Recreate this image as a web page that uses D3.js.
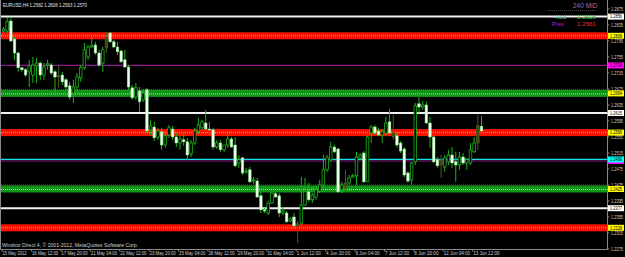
<!DOCTYPE html>
<html>
<head>
<meta charset="utf-8">
<script src="https://cdn.jsdelivr.net/npm/d3@7"></script>
<style>
  body { margin: 0; background: #000; }
  svg { display: block; }
</style>
</head>
<body>
<div id="chart"></div>
<script>

// EURUSD H4 bars, 15 May 2012 .. 13 Jun 2012
var opens = [1.2820,1.2820,1.2845,1.2800,1.2765,1.2728,1.2723,1.2718,1.2710,1.2733,
  1.2740,1.2710,1.2735,1.2735,1.2718,1.2705,1.2710,1.2698,1.2683,1.2665,
  1.2680,1.2703,1.2728,1.2755,1.2780,1.2785,1.2765,1.2740,1.2778,1.2815,
  1.2793,1.2780,1.2770,1.2748,1.2730,1.2678,1.2655,1.2670,1.2648,1.2673,
  1.2573,1.2580,1.2555,1.2568,1.2535,1.2560,1.2575,1.2555,1.2540,1.2548,
  1.2543,1.2513,1.2540,1.2570,1.2578,1.2590,1.2575,1.2573,1.2530,1.2540,
  1.2523,1.2535,1.2550,1.2535,1.2490,1.2503,1.2468,1.2473,1.2445,1.2445,
  1.2408,1.2373,1.2365,1.2390,1.2413,1.2408,1.2365,1.2365,1.2345,1.2355,
  1.2333,1.2340,1.2385,1.2418,1.2398,1.2405,1.2420,1.2435,1.2473,1.2498,
  1.2530,1.2525,1.2423,1.2428,1.2440,1.2455,1.2458,1.2503,1.2515,1.2443,
  1.2565,1.2580,1.2570,1.2560,1.2565,1.2593,1.2565,1.2558,1.2540,1.2525,
  1.2465,1.2448,1.2493,1.2638,1.2630,1.2635,1.2590,1.2555,1.2498,1.2485,
  1.2480,1.2493,1.2510,1.2493,1.2485,1.2505,1.2490,1.2490,1.2518,1.2540,
  1.2582];
var highs = [1.2830,1.2853,1.2855,1.2805,1.2768,1.2730,1.2728,1.2748,1.2755,1.2753,
  1.2743,1.2740,1.2748,1.2740,1.2723,1.2735,1.2718,1.2703,1.2693,1.2698,
  1.2715,1.2735,1.2790,1.2785,1.2805,1.2793,1.2773,1.2780,1.2818,1.2818,
  1.2798,1.2793,1.2773,1.2773,1.2735,1.2685,1.2690,1.2680,1.2673,1.2678,
  1.2598,1.2593,1.2578,1.2578,1.2565,1.2585,1.2583,1.2565,1.2558,1.2568,
  1.2553,1.2548,1.2578,1.2603,1.2598,1.2623,1.2593,1.2578,1.2548,1.2548,
  1.2535,1.2565,1.2555,1.2555,1.2510,1.2505,1.2478,1.2480,1.2455,1.2453,
  1.2418,1.2378,1.2395,1.2418,1.2418,1.2415,1.2380,1.2370,1.2355,1.2365,
  1.2345,1.2455,1.2453,1.2440,1.2415,1.2430,1.2448,1.2510,1.2510,1.2543,
  1.2535,1.2528,1.2443,1.2473,1.2460,1.2463,1.2518,1.2515,1.2520,1.2560,
  1.2585,1.2585,1.2578,1.2573,1.2605,1.2625,1.2610,1.2565,1.2545,1.2530,
  1.2470,1.2493,1.2640,1.2665,1.2645,1.2643,1.2605,1.2560,1.2505,1.2510,
  1.2510,1.2523,1.2530,1.2518,1.2518,1.2515,1.2503,1.2540,1.2555,1.2610,
  1.2608];
var lows = [1.2815,1.2815,1.2793,1.2748,1.2718,1.2718,1.2705,1.2680,1.2690,1.2690,
  1.2698,1.2698,1.2723,1.2710,1.2665,1.2678,1.2685,1.2673,1.2648,1.2640,
  1.2670,1.2693,1.2723,1.2748,1.2778,1.2760,1.2730,1.2718,1.2765,1.2790,
  1.2778,1.2760,1.2740,1.2728,1.2673,1.2648,1.2648,1.2618,1.2643,1.2565,
  1.2560,1.2545,1.2548,1.2523,1.2528,1.2553,1.2548,1.2530,1.2523,1.2533,
  1.2498,1.2505,1.2535,1.2563,1.2573,1.2573,1.2560,1.2523,1.2525,1.2518,
  1.2518,1.2528,1.2528,1.2480,1.2478,1.2460,1.2463,1.2440,1.2438,1.2403,
  1.2365,1.2365,1.2360,1.2388,1.2403,1.2355,1.2360,1.2340,1.2343,1.2330,
  1.2290,1.2335,1.2383,1.2393,1.2390,1.2398,1.2415,1.2430,1.2468,1.2493,
  1.2515,1.2415,1.2415,1.2423,1.2435,1.2453,1.2435,1.2498,1.2440,1.2443,
  1.2540,1.2560,1.2558,1.2540,1.2560,1.2560,1.2548,1.2528,1.2515,1.2455,
  1.2440,1.2435,1.2485,1.2615,1.2623,1.2588,1.2528,1.2490,1.2478,1.2453,
  1.2468,1.2485,1.2478,1.2443,1.2473,1.2485,1.2473,1.2485,1.2515,1.2523,
  1.2563];
var closes = [1.2825,1.2843,1.2795,1.2765,1.2728,1.2723,1.2710,1.2733,1.2735,1.2740,
  1.2710,1.2730,1.2738,1.2715,1.2705,1.2708,1.2693,1.2680,1.2655,1.2680,
  1.2705,1.2728,1.2773,1.2780,1.2783,1.2765,1.2735,1.2773,1.2805,1.2793,
  1.2780,1.2768,1.2743,1.2730,1.2680,1.2653,1.2678,1.2643,1.2665,1.2570,
  1.2583,1.2553,1.2570,1.2535,1.2558,1.2578,1.2555,1.2540,1.2550,1.2543,
  1.2510,1.2540,1.2570,1.2585,1.2593,1.2575,1.2573,1.2530,1.2540,1.2523,
  1.2535,1.2550,1.2530,1.2483,1.2498,1.2465,1.2470,1.2443,1.2448,1.2405,
  1.2373,1.2370,1.2390,1.2415,1.2405,1.2365,1.2370,1.2343,1.2350,1.2333,
  1.2338,1.2385,1.2418,1.2398,1.2410,1.2423,1.2435,1.2473,1.2503,1.2530,
  1.2518,1.2418,1.2435,1.2440,1.2453,1.2458,1.2505,1.2510,1.2443,1.2555,
  1.2580,1.2565,1.2560,1.2568,1.2590,1.2565,1.2555,1.2535,1.2520,1.2460,
  1.2445,1.2490,1.2633,1.2630,1.2635,1.2590,1.2555,1.2493,1.2483,1.2498,
  1.2503,1.2510,1.2490,1.2485,1.2505,1.2490,1.2498,1.2523,1.2540,1.2583,
  1.2570];
// bars that the terminal paints in a darker colour
var dimBars = [15, 28, 80, 93, 106, 119, 129];

var timeLabels = ["15 May 2012", "16 May 12:00", "17 May 20:00", "21 May 04:00", "22 May 12:00",
  "23 May 20:00", "25 May 04:00", "28 May 12:00", "29 May 20:00", "31 May 04:00", "1 Jun 12:00",
  "4 Jun 20:00", "6 Jun 04:00", "7 Jun 12:00", "8 Jun 20:00", "12 Jun 04:00", "13 Jun 12:00"];
var timeLabelBars = [0, 8, 16, 24, 32, 40, 48, 56, 64, 72, 80, 88, 96, 104, 112, 120, 128];

var priceTicks = [1.2875, 1.2835, 1.2795, 1.2755, 1.2715, 1.2675, 1.2635, 1.2595,
  1.2555, 1.2515, 1.2475, 1.2435, 1.2395, 1.2355, 1.2315, 1.2275];

// horizontal levels drawn on the chart
var levelPrices = [1.2856, 1.2808, 1.2734, 1.2664, 1.2615, 1.2566, 1.2495, 1.2499, 1.2425, 1.2377, 1.2328];
var levelKinds  = ["white", "red", "purple", "green", "white", "red", "purple", "cyan", "green", "white", "red"];

var titleText = "EURUSD,H4  1.2582 1.2608 1.2563 1.2570";
var copyText = "Windsor Direct 4, \u00a9 2001-2012, MetaQuotes Software Corp.";
var hodValue = "1.2608";
var prevValue = "1.2561";

var width = 625, height = 257;
var plotRight = 607.5, plotBottom = 249.5;

var svg = d3.select("#chart").append("svg")
  .attr("width", width)
  .attr("height", height)
  .style("background", "#000");

var x = d3.scaleLinear().domain([0, 130]).range([3.5, 481.5]);
var y = d3.scaleLinear().domain([1.2275, 1.2875]).range([249, 9]);

var font = "'Liberation Sans', Arial, sans-serif";

// frame
svg.append("path")
  .attr("d", "M0.5,0 V" + plotBottom + " H" + plotRight + " V0")
  .attr("fill", "none")
  .attr("stroke", "#8a8a8a")
  .attr("stroke-width", 1);

// levels (behind candles)
var gLev = svg.append("g");
levelPrices.forEach(function(p, i) {
  var k = levelKinds[i];
  var yy = y(p);
  if (k == "white") {
    gLev.append("line").attr("x1", 1).attr("x2", plotRight).attr("y1", yy).attr("y2", yy)
      .attr("stroke", "#f2f2f2").attr("stroke-width", 2);
  } else if (k == "red") {
    gLev.append("rect").attr("x", 1).attr("width", plotRight - 1).attr("y", yy - 3.5).attr("height", 7)
      .attr("fill", "#ff1200");
    gLev.append("line").attr("x1", 1).attr("x2", plotRight).attr("y1", yy).attr("y2", yy)
      .attr("stroke", "#ffb000").attr("stroke-width", 1).attr("stroke-dasharray", "1,1");
  } else if (k == "green") {
    gLev.append("rect").attr("x", 1).attr("width", plotRight - 1).attr("y", yy - 3.5).attr("height", 7)
      .attr("fill", "#12961a");
    gLev.append("line").attr("x1", 1).attr("x2", plotRight).attr("y1", yy + 0.5).attr("y2", yy + 0.5)
      .attr("stroke", "#8cff3a").attr("stroke-width", 1).attr("stroke-dasharray", "1,1");
    gLev.append("line").attr("x1", 1).attr("x2", plotRight).attr("y1", yy - 4).attr("y2", yy - 4)
      .attr("stroke", "#2d6f9a").attr("stroke-width", 1).attr("stroke-dasharray", "1,1");
  } else if (k == "purple") {
    gLev.append("line").attr("x1", 1).attr("x2", plotRight).attr("y1", yy).attr("y2", yy)
      .attr("stroke", "#8a1a8a").attr("stroke-width", 1.2);
  } else if (k == "cyan") {
    gLev.append("line").attr("x1", 1).attr("x2", plotRight).attr("y1", yy).attr("y2", yy)
      .attr("stroke", "#10e0e8").attr("stroke-width", 1.2);
  }
});

// candles
var bars = d3.range(opens.length);
var gBars = svg.append("g");
var bodyW = 2.6;

bars.forEach(function(i) {
  var dim = dimBars.indexOf(i) >= 0;
  var up = closes[i] >= opens[i];
  var cx = x(i);
  gBars.append("line")
    .attr("x1", cx).attr("x2", cx)
    .attr("y1", y(highs[i])).attr("y2", y(lows[i]))
    .attr("stroke", dim ? "#4d5a22" : "#1cb41c")
    .attr("stroke-width", 1);
  var top = y(Math.max(opens[i], closes[i]));
  var bot = y(Math.min(opens[i], closes[i]));
  var h = Math.max(1, bot - top);
  gBars.append("rect")
    .attr("x", cx - bodyW / 2)
    .attr("y", top)
    .attr("width", bodyW)
    .attr("height", h)
    .attr("fill", dim ? "#3b4a1c" : (up ? "#000" : "#effff0"))
    .attr("stroke", dim ? "#4d5a22" : (up ? "#1cb41c" : "#7ee07e"))
    .attr("stroke-width", up ? 0.8 : 0.5);
});

// price axis ticks
var gAx = svg.append("g");
priceTicks.forEach(function(p) {
  var yy = y(p);
  gAx.append("line").attr("x1", plotRight).attr("x2", plotRight + 2).attr("y1", yy).attr("y2", yy)
    .attr("stroke", "#8a8a8a");
  gAx.append("text")
    .attr("x", 611).attr("y", yy + 1.5)
    .attr("fill", "#cfcfcf")
    .attr("font-family", font)
    .attr("font-size", "4.5px")
    .attr("textLength", 12)
    .attr("lengthAdjust", "spacingAndGlyphs")
    .text(p.toFixed(4));
});

// level labels on the price axis (a label mostly hidden under the next one keeps only its box)
var labelFill = { white: "#ffffff", red: "#ffff00", green: "#ffff00", purple: "#ff00ff", cyan: "#00ffff" };
levelPrices.forEach(function(p, i) {
  var yy = y(p);
  var hidden = i + 1 < levelPrices.length && Math.abs(y(levelPrices[i + 1]) - yy) < 4;
  gAx.append("rect")
    .attr("x", 608).attr("y", yy - 3).attr("width", 16).attr("height", 6)
    .attr("fill", labelFill[levelKinds[i]]);
  if (hidden) return;
  gAx.append("text")
    .attr("x", 610).attr("y", yy + 1.7)
    .attr("fill", "#000")
    .attr("font-family", font)
    .attr("font-size", "4.5px")
    .attr("textLength", 12)
    .attr("lengthAdjust", "spacingAndGlyphs")
    .text(p.toFixed(4));
});

// time axis
var gT = svg.append("g");
timeLabels.forEach(function(t, i) {
  var xx = x(timeLabelBars[i]) - 1.5;
  gT.append("line").attr("x1", xx).attr("x2", xx).attr("y1", plotBottom).attr("y2", plotBottom + 2)
    .attr("stroke", "#8a8a8a");
  gT.append("text")
    .attr("x", xx + 0.5).attr("y", 255)
    .attr("fill", "#cfcfcf")
    .attr("font-family", font)
    .attr("font-size", "5px")
    .attr("textLength", t.length * 2.2)
    .attr("lengthAdjust", "spacingAndGlyphs")
    .text(t);
});

// title and copyright
svg.append("text")
  .attr("x", 3).attr("y", 7)
  .attr("fill", "#e6e6e6")
  .attr("font-family", font)
  .attr("font-size", "5px")
  .attr("textLength", 84)
  .attr("lengthAdjust", "spacingAndGlyphs")
  .text(titleText);

svg.append("text")
  .attr("x", 2).attr("y", 247)
  .attr("fill", "#cfcfcf")
  .attr("font-family", font)
  .attr("font-size", "5px")
  .attr("textLength", 136)
  .attr("lengthAdjust", "spacingAndGlyphs")
  .text(copyText);

// info panel top right
var info = svg.append("g").attr("font-family", font);
info.append("text").attr("x", 573).attr("y", 8).attr("fill", "#a868b4")
  .attr("font-size", "6.5px").text("240 MID");
info.append("line").attr("x1", 548).attr("x2", 596).attr("y1", 10.5).attr("y2", 10.5)
  .attr("stroke", "#4a4a4a").attr("stroke-dasharray", "1,1");
info.append("text").attr("x", 555).attr("y", 18.5).attr("fill", "#5fc4a4")
  .attr("font-size", "6px").text("Hod");
info.append("text").attr("x", 577).attr("y", 18.5).attr("fill", "#2ad02a")
  .attr("font-size", "6px").attr("textLength", 19).attr("lengthAdjust", "spacingAndGlyphs").text(hodValue);
info.append("text").attr("x", 552).attr("y", 25.5).attr("fill", "#c020c0")
  .attr("font-size", "6px").text("Prev");
info.append("text").attr("x", 577).attr("y", 25.5).attr("fill", "#e83030")
  .attr("font-size", "6px").attr("textLength", 19).attr("lengthAdjust", "spacingAndGlyphs").text(prevValue);

</script>
</body>
</html>
